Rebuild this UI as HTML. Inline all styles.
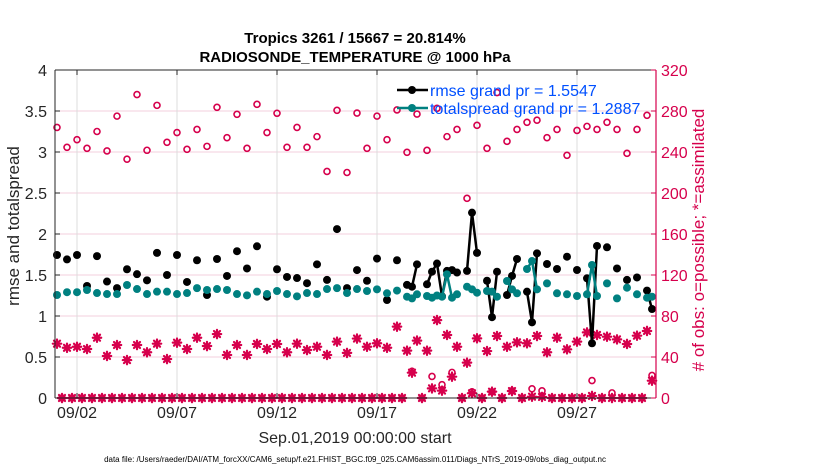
<!DOCTYPE html>
<html><head><meta charset="utf-8">
<style>
html,body{margin:0;padding:0;background:#fff;}
svg{display:block;font-family:"Liberation Sans",Arial,sans-serif;}
</style></head>
<body>
<svg id="chart" width="830" height="470" viewBox="0 0 830 470">
  <g id="grid"></g>
  <g id="counts"></g>
  <g id="series"></g>
  <g id="axes"></g>
  <text x="355" y="43" text-anchor="middle" font-size="15" font-weight="bold">Tropics 3261 / 15667 = 20.814%</text>
  <text x="355" y="62" text-anchor="middle" font-size="15" font-weight="bold">RADIOSONDE_TEMPERATURE @ 1000 hPa</text>
  <text x="355" y="443" text-anchor="middle" font-size="16" fill="#262626">Sep.01,2019 00:00:00 start</text>
  <text x="355" y="462" text-anchor="middle" font-size="8" fill="#000">data file: /Users/raeder/DAI/ATM_forcXX/CAM6_setup/f.e21.FHIST_BGC.f09_025.CAM6assim.011/Diags_NTrS_2019-09/obs_diag_output.nc</text>
  <text transform="translate(19,226) rotate(-90)" text-anchor="middle" font-size="17" fill="#262626">rmse and totalspread</text>
  <text transform="translate(704,240) rotate(-90)" text-anchor="middle" font-size="17" fill="#d6004c"># of obs: o=possible; *=assimilated</text>
  <g id="legend">
    <g>
      <line x1="397" y1="90" x2="428" y2="90" stroke="#000" stroke-width="2.5"/>
      <circle cx="412" cy="90" r="4" fill="#000"/>
      <text x="430" y="96" font-size="16" fill="#0050ff">rmse grand pr = 1.5547</text>
    </g>
    <g>
      <line x1="397" y1="108" x2="428" y2="108" stroke="#008080" stroke-width="2.5"/>
      <circle cx="412" cy="108" r="4" fill="#008080"/>
      <text x="430" y="114" font-size="16" fill="#0050ff">totalspread grand pr = 1.2887</text>
    </g>
  </g>
</svg>
<script>
// 6-hourly slot indices (0..119)
const rmseSlots = [0,2,4,6,8,10,12,14,16,18,20,22,24,26,28,30,32,34,36,38,40,42,44,46,48,50,52,54,56,58,60,62,64,66,68,70,71,72,74,75,76,77,78,79,80,82,83,84,86,87,88,90,91,92,94,95,96,98,100,102,104,106,107,108,110,112,114,116,118,119];
const rmseValues = [1.744,1.69,1.744,1.366,1.73,1.42,1.34,1.57,1.51,1.435,1.77,1.50,1.744,1.415,1.68,1.256,1.695,1.488,1.79,1.58,1.85,1.235,1.57,1.476,1.463,1.40,1.63,1.44,2.06,1.34,1.56,1.43,1.70,1.195,1.68,1.38,1.357,1.63,1.387,1.54,1.64,1.24,1.55,1.56,1.53,1.55,2.26,1.77,1.43,0.985,1.54,1.256,1.488,1.695,1.297,0.923,1.764,1.634,1.573,1.723,1.561,1.46,0.667,1.854,1.838,1.58,1.44,1.47,1.31,1.085];
const spreadValues = [1.256,1.29,1.29,1.317,1.28,1.268,1.268,1.378,1.329,1.268,1.297,1.297,1.268,1.28,1.34,1.317,1.329,1.317,1.268,1.252,1.297,1.268,1.305,1.268,1.24,1.28,1.268,1.329,1.34,1.28,1.329,1.305,1.325,1.277,1.31,1.235,1.215,1.265,1.244,1.223,1.25,1.235,1.508,1.223,1.265,1.357,1.325,1.284,1.305,1.297,1.235,1.427,1.325,1.277,1.573,1.67,1.325,1.398,1.277,1.265,1.244,1.265,1.622,1.244,1.398,1.215,1.345,1.265,1.223,1.235];
const possibleValues = [264,244.6,252,243.6,260,241,275,233,296,241.7,285.5,249.5,259,242.6,262,245.5,283.6,254,276.8,243.6,286.5,259,277.8,244.6,264,244.6,255,221,280.7,220,278,243.6,275,252,281,239.7,26,277,241.6,21,282.6,13,255,25,262,194.8,6,266,243.6,6,298,250.4,7,262,269,9,271,254,262,236.8,261,265,17,262,269,262,238.7,262,275.8,22];
const assimValues = [53,49,50,47.8,58.8,41,51.7,37,51.7,44.6,53,38,54,47.8,58.8,50.7,62.4,42,51.7,42,52.7,47.8,52.7,44.6,53,46.8,50,42,55,44,58,50,53.4,49,69.6,46.2,24.7,56,46.2,9.4,76,7.2,61.5,20.8,50,34.5,4.6,58.2,45.8,6.2,60.5,50,6.8,54.3,53.4,1.3,60.5,44.6,58.8,47.5,55,64,2,61.5,59.8,57.2,52.7,60.8,65.4,16.9];
const extraSlots = [97,111];
const extraPossible = [7,5];
const extraAssim = [1,0];
const tickDays = [1,6,11,16,21,26];
const tickLabels = ["09/02","09/07","09/12","09/17","09/22","09/27"];
const leftTicks = [0,0.5,1,1.5,2,2.5,3,3.5,4];
const leftTickLabels = ["0","0.5","1","1.5","2","2.5","3","3.5","4"];
const rightTicks = [0,40,80,120,160,200,240,280,320];

const NS="http://www.w3.org/2000/svg";
const X0=55,X1=656,YT=70,YB=398;
const xs = s => 57 + 5*s;
const xd = d => 57 + 20*d;
const yl = v => YB - (v/4)*(YB-YT);
const yr = n => YB - (n/320)*(YB-YT);
const CR="#d6004c";
function mk(tag,attrs,parent){const e=document.createElementNS(NS,tag);for(const k in attrs)e.setAttribute(k,attrs[k]);parent.appendChild(e);return e;}
const grid=document.getElementById('grid'),counts=document.getElementById('counts'),series=document.getElementById('series'),axes=document.getElementById('axes');

leftTicks.forEach(v=>{ if(v>0&&v<4){const l=mk('line',{x1:X0,x2:X1,y1:yl(v),y2:yl(v),stroke:'#f3cfdc','stroke-width':1},grid);

}});
tickDays.forEach(d=>{const l=mk('line',{x1:xd(d),x2:xd(d),y1:YT,y2:YB,stroke:'#dcdcdc','stroke-width':1},grid);

});

function star(x,y,parent,name){
  const g=mk('g',{stroke:CR,'stroke-width':2.2,'stroke-linecap':'round'},parent);
  
  
  const r=4.2;
  mk('line',{x1:x-r,y1:y,x2:x+r,y2:y},g);
  mk('line',{x1:x,y1:y-r,x2:x,y2:y+r},g);
  mk('line',{x1:x-r*0.72,y1:y-r*0.72,x2:x+r*0.72,y2:y+r*0.72},g);
  mk('line',{x1:x-r*0.72,y1:y+r*0.72,x2:x+r*0.72,y2:y-r*0.72},g);
  mk('circle',{cx:x,cy:y,r:2.2,fill:CR,stroke:'none'},g);
}
function ring(x,y,parent,name){
  const c=mk('circle',{cx:x,cy:y,r:3,fill:'none',stroke:CR,'stroke-width':1.6},parent);
  
  
}
const used=new Set(rmseSlots.concat(extraSlots));
for(let s=0;s<120;s++){ if(!used.has(s)){ ring(xs(s),yr(0),counts,'possible-zero'); star(xs(s),yr(0),counts,'assimilated-zero'); } }
rmseSlots.forEach((s,i)=>{ ring(xs(s),yr(possibleValues[i]),counts,'possible-point'); star(xs(s),yr(assimValues[i]),counts,'assimilated-point'); });
extraSlots.forEach((s,i)=>{ ring(xs(s),yr(extraPossible[i]),counts,'possible-point'); star(xs(s),yr(extraAssim[i]),counts,'assimilated-point'); });

function drawSeries(vals,color,name){
  let seg=[];
  const segs=[];
  rmseSlots.forEach((s,i)=>{
    if(i>0 && s-rmseSlots[i-1]!==1){ segs.push(seg); seg=[]; }
    seg.push([xs(s),yl(vals[i])]);
  });
  segs.push(seg);
  segs.forEach(sg=>{ if(sg.length>1){
    const p=mk('polyline',{points:sg.map(q=>q.join(',')).join(' '),fill:'none',stroke:color,'stroke-width':2.5,'stroke-linejoin':'round'},series);
    
    
  }});
  rmseSlots.forEach((s,i)=>{
    const c=mk('circle',{cx:xs(s),cy:yl(vals[i]),r:4,fill:color},series);
    
    
  });
}
drawSeries(rmseValues,'#000','rmse');
drawSeries(spreadValues,'#008080','totalspread');

let a=mk('line',{x1:X0,y1:YT,x2:X0,y2:YB,stroke:'#262626','stroke-width':1},axes);


a=mk('line',{x1:X0,y1:YB,x2:X1,y2:YB,stroke:'#262626','stroke-width':1},axes);


a=mk('line',{x1:X0,y1:YT,x2:X1,y2:YT,stroke:'#262626','stroke-width':1},axes);


a=mk('line',{x1:X1,y1:YT,x2:X1,y2:YB,stroke:CR,'stroke-width':1.2},axes);


leftTicks.forEach((v,i)=>{
  mk('line',{x1:X0,x2:X0+5,y1:yl(v),y2:yl(v),stroke:'#262626'},axes);
  const t=mk('text',{x:X0-8,y:yl(v)+6,'text-anchor':'end','font-size':16,fill:'#262626'},axes);
  t.textContent=leftTickLabels[i];
  
  
});
rightTicks.forEach(v=>{
  mk('line',{x1:X1-5,x2:X1,y1:yr(v),y2:yr(v),stroke:CR},axes);
  const t=mk('text',{x:X1+5,y:yr(v)+6,'font-size':16,fill:CR},axes);
  t.textContent=String(v);
  
  
});
tickDays.forEach((d,i)=>{
  mk('line',{x1:xd(d),x2:xd(d),y1:YB,y2:YB-5,stroke:'#262626'},axes);
  mk('line',{x1:xd(d),x2:xd(d),y1:YT,y2:YT+5,stroke:'#262626'},axes);
  const t=mk('text',{x:xd(d),y:YB+20,'text-anchor':'middle','font-size':16,fill:'#262626'},axes);
  t.textContent=tickLabels[i];
  
  
});
</script>
</body></html>
